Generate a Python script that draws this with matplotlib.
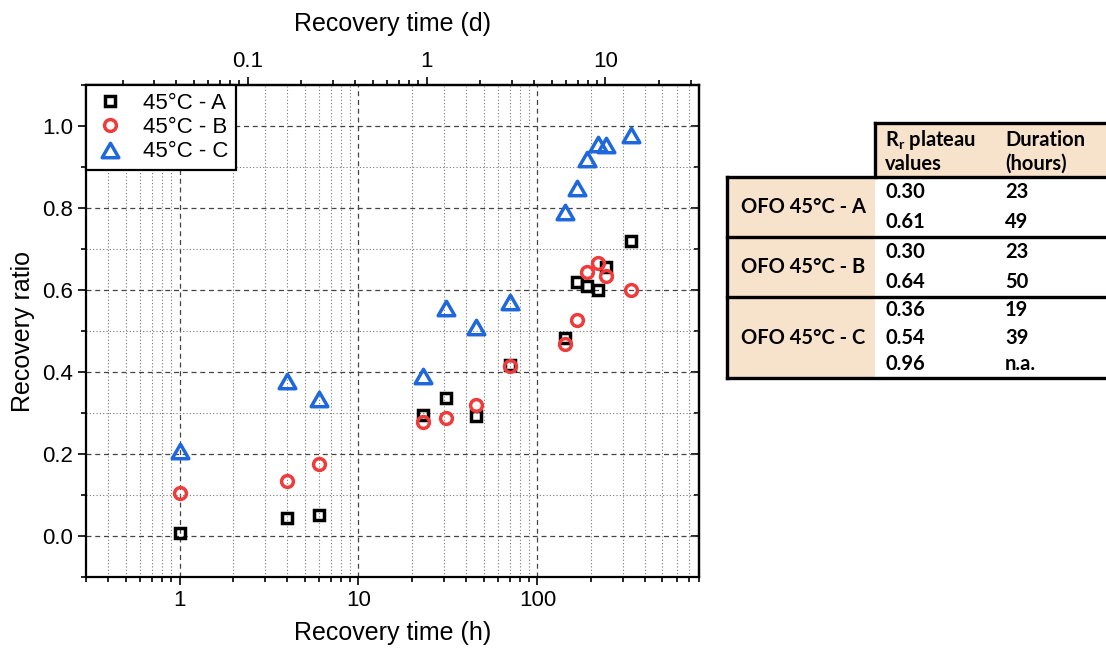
import numpy as np
import matplotlib
matplotlib.use('Agg')
import matplotlib.pyplot as plt
from matplotlib import ticker
from matplotlib.patches import Rectangle
from matplotlib.path import Path

# recovery time (h), same schedule for the three samples
time_h = [1, 4, 6, 23, 31, 45.5, 70.5, 142, 167, 189, 217, 241, 334]
ratio_a = [0.008, 0.043, 0.051, 0.295, 0.337, 0.293, 0.417, 0.483, 0.620, 0.610, 0.600, 0.656, 0.720]
ratio_b = [0.106, 0.133, 0.176, 0.279, 0.289, 0.319, 0.415, 0.468, 0.527, 0.645, 0.667, 0.635, 0.600]
ratio_c = [0.207, 0.377, 0.334, 0.390, 0.555, 0.510, 0.571, 0.791, 0.850, 0.919, 0.955, 0.954, 0.978]
labels = ['45°C - A', '45°C - B', '45°C - C']
ticks_h = [1, 10, 100]
ticks_d = [0.1, 1, 10]

# plateau table
row_names = ['OFO 45°C - A', 'OFO 45°C - B', 'OFO 45°C - C']
plateau = [['0.30', '0.61'], ['0.30', '0.64'], ['0.36', '0.54', '0.96']]
duration = [['23', '49'], ['23', '50'], ['19', '39', 'n.a.']]

plt.rcParams['font.family'] = ['Liberation Sans', 'DejaVu Sans']
plt.rcParams['mathtext.fontset'] = 'custom'
plt.rcParams['mathtext.rm'] = 'Lato:bold'

W, H = 1106, 653
fig = plt.figure(figsize=(W / 100, H / 100), dpi=100)
ax = fig.add_axes([86 / W, 1 - 577 / H, (699 - 86) / W, (577 - 85) / H])

# closed equilateral triangle marker
tri = Path([(-1, -0.866), (1, -0.866), (0, 0.866), (-1, -0.866)],
           [Path.MOVETO, Path.LINETO, Path.LINETO, Path.CLOSEPOLY])
ax.plot(time_h, ratio_a, ls='none', marker='s', ms=7.5, mfc='none', mec='black', mew=2.5, label=labels[0])
ax.plot(time_h, ratio_b, ls='none', marker='o', ms=8.5, mfc='none', mec='#EE3B3B', mew=2.5, label=labels[1])
ax.plot(time_h, ratio_c, ls='none', marker=tri, ms=12, mfc='none', mec='#1E68DC', mew=2.5, label=labels[2])

ax.set_xscale('log')
ax.set_xlim(0.3, 800)
ax.set_ylim(-0.1, 1.1)
ax.yaxis.set_major_locator(ticker.MultipleLocator(0.2))
ax.yaxis.set_minor_locator(ticker.MultipleLocator(0.1))
ax.yaxis.set_major_formatter(ticker.FormatStrFormatter('%.1f'))
ax.xaxis.set_major_locator(ticker.FixedLocator(ticks_h))
ax.xaxis.set_minor_locator(ticker.LogLocator(base=10, subs=np.arange(2, 10), numticks=10))
ax.xaxis.set_major_formatter(ticker.FormatStrFormatter('%g'))
ax.xaxis.set_minor_formatter(ticker.NullFormatter())

ax.set_axisbelow(True)
ax.grid(which='major', ls=(0, (4, 3)), color='#444444', lw=0.9)
ax.grid(which='minor', ls=(0, (1, 2)), color='#777777', lw=0.8)
ax.tick_params(which='both', direction='out', width=1.2, labelsize=16, top=False, right=False)
ax.tick_params(which='major', length=6)
ax.tick_params(which='minor', length=3.5)
for s in ax.spines.values():
    s.set_linewidth(1.6)

ax.set_xlabel('Recovery time (h)', fontsize=18, labelpad=7)
ax.set_ylabel('Recovery ratio', fontsize=18, labelpad=5)

# right side: inward ticks, no labels
ry = ax.secondary_yaxis('right')
ry.yaxis.set_major_locator(ticker.MultipleLocator(0.2))
ry.yaxis.set_minor_locator(ticker.MultipleLocator(0.1))
ry.tick_params(which='both', direction='in', width=1.2, labelright=False)
ry.tick_params(which='major', length=6)
ry.tick_params(which='minor', length=3.5)
ry.spines['right'].set_linewidth(1.6)

# top axis in days
top = ax.secondary_xaxis('top', functions=(lambda h: h / 24, lambda d: d * 24))
top.xaxis.set_major_locator(ticker.FixedLocator(ticks_d))
top.xaxis.set_minor_locator(ticker.LogLocator(base=10, subs=np.arange(2, 10), numticks=10))
top.xaxis.set_major_formatter(ticker.FormatStrFormatter('%g'))
top.xaxis.set_minor_formatter(ticker.NullFormatter())
top.tick_params(which='both', direction='out', width=1.2, labelsize=16)
top.tick_params(which='major', length=6)
top.tick_params(which='minor', length=3.5)
top.spines['top'].set_linewidth(1.6)
top.set_xlabel('Recovery time (d)', fontsize=18, labelpad=14)

leg = ax.legend(loc='upper left', bbox_to_anchor=(0, 1), borderaxespad=0, fancybox=False,
                edgecolor='black', framealpha=1, fontsize=16, handlelength=1.5,
                handletextpad=0.7, borderpad=0.35, labelspacing=0.15, numpoints=1)
leg.get_frame().set_linewidth(1.6)

# table drawn in pixel coordinates
tab = fig.add_axes([0, 0, 1, 1])
tab.set_xlim(0, W)
tab.set_ylim(H, 0)
tab.axis('off')
beige = '#F7E2CB'
x0, xm, xe = 727, 875, 1112
yh = 123
rows_y = [177, 237, 297, 378]
tab.add_patch(Rectangle((xm, yh), xe - xm, rows_y[0] - yh, fc=beige, ec='none'))
tab.add_patch(Rectangle((x0, rows_y[0]), xm - x0, rows_y[-1] - rows_y[0], fc=beige, ec='none'))
lw = 2.4
tab.plot([xm, xe], [yh, yh], color='black', lw=lw, solid_capstyle='projecting')
tab.plot([xm, xm], [yh, rows_y[0]], color='black', lw=lw, solid_capstyle='projecting')
tab.plot([x0, x0], [rows_y[0], rows_y[-1]], color='black', lw=lw, solid_capstyle='projecting')
for y in rows_y:
    tab.plot([x0, xe], [y, y], color='black', lw=lw, solid_capstyle='projecting')

tf = dict(family=['Lato', 'DejaVu Sans'], weight='bold', fontsize=14.5, va='center', ha='left')
tab.text(885, 140, r'R$_\mathrm{r}$ plateau', **tf)
tab.text(885, 164, 'values', **tf)
tab.text(1005, 140, 'Duration', **tf)
tab.text(1005, 164, '(hours)', **tf)
for i, name in enumerate(row_names):
    t, b = rows_y[i], rows_y[i + 1]
    tab.text(741, (t + b) / 2, name, **tf)
    n = len(plateau[i])
    for k in range(n):
        y = t + (b - t) * (k + 0.5) / n
        tab.text(885, y, plateau[i][k], **tf)
        tab.text(1005, y, duration[i][k], **tf)

fig.savefig('out.png', dpi=100)
